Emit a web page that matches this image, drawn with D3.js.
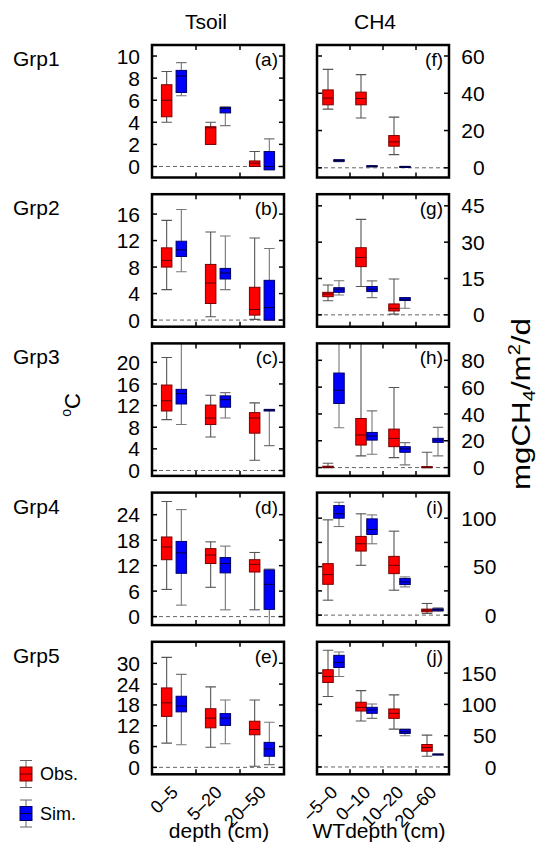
<!DOCTYPE html>
<html><head><meta charset="utf-8">
<script src="https://cdn.jsdelivr.net/npm/d3@7"></script>
<style>
body{margin:0;background:#fff}
svg{display:block}
text{font-family:"Liberation Sans",Arial,Helvetica,sans-serif;fill:#000}
</style>
</head><body>
<svg id="c" width="539" height="844"></svg>
<script>
// ---------- data ----------
const groups = ["Grp1","Grp2","Grp3","Grp4","Grp5"];
const tsoilCats = ["0\u20135","5\u201320","20\u201350"];
const ch4Cats = ["\u20135\u20130","0\u201310","10\u201320","20\u201360"];
const seriesNames = ["Obs.","Sim."];

// each box: [lowWhisker, q1, median, q3, highWhisker]
const tsoilObs = [
  [[4.0,4.5,6.0,7.4,8.6],[2.0,2.0,3.5,3.6,4.0],[0.0,0.0,0.3,0.5,1.35]],
  [[4.6,8.0,9.0,10.9,15.05],[0.5,2.5,5.6,8.4,13.3],[0.1,0.75,1.6,4.95,12.4]],
  [[9.4,11.0,12.9,15.8,20.9],[6.2,8.5,9.7,12.1,13.9],[1.9,6.9,9.7,10.7,12.5]],
  [[6.4,13.4,16.4,18.75,27.1],[6.9,12.5,14.5,16.0,17.6],[1.6,10.5,12.3,13.4,15.1]],
  [[7.0,14.7,18.6,22.9,31.7],[5.8,11.4,14.2,16.9,23.2],[0.3,9.4,10.9,13.3,19.4]]
];
const tsoilSim = [
  [[6.4,6.7,8.2,8.7,9.4],[3.7,4.85,5.25,5.35,5.4],[-0.3,-0.3,0.0,1.35,2.5]],
  [[7.3,9.6,10.6,11.9,16.7],[4.6,6.2,7.1,7.8,12.7],[0.0,0.0,1.9,6.0,10.8]],
  [[8.5,12.3,14.2,15.0,25.0],[9.7,11.7,13.1,13.8,14.4],[4.6,11.0,11.15,11.25,11.3]],
  [[2.7,10.2,15.0,17.7,25.2],[1.6,10.3,12.5,13.9,16.6],[-3.0,1.7,7.6,11.0,11.2]],
  [[6.5,16.0,17.7,20.5,26.8],[6.8,12.1,14.2,15.5,19.4],[0.8,3.2,5.3,7.2,13.0]]
];
const ch4Obs = [
  [[31.5,33.8,37.4,41.8,52.8],[26.7,33.8,37.2,40.6,50.0],[7.1,11.6,13.9,17.3,27.2],null],
  [[5.8,7.5,8.6,9.3,12.3],[11.7,19.9,23.7,27.7,39.4],[0.3,1.6,2.7,4.5,14.8],null],
  [[0.0,0.0,0.5,1.0,3.2],[8.7,16.8,24.3,36.6,120],[7.4,15.6,21.8,28.7,59.7],[0.0,0.0,0.3,0.7,11.4]],
  [[15.4,31.8,41.8,53.1,98.3],[51.4,66.1,73.6,81.2,104.5],[25.7,42.8,51.4,60.6,86.6],[1.7,3.4,5.1,6.2,12.0]],
  [[112.5,135,144.6,155.3,186.4],[73.4,89.4,95.3,103.4,122],[60.5,77.7,85.7,92.7,115.2],[17.1,25.2,31.1,35.9,50.9]]
];
const ch4Sim = [
  [[3.3,3.5,3.9,4.3,4.4],[0.5,0.6,0.9,1.1,1.2],[0.3,0.4,0.5,0.7,0.8],null],
  [[8.2,9.3,10.6,11.2,14.1],[7.1,9.6,10.6,11.7,14.0],[2.7,5.9,6.4,7.1,7.1],null],
  [[29.7,47.8,57.7,70.5,130],[9.9,20.5,23.5,26.2,42.3],[2.0,11.4,13.9,15.6,18.6],[8.7,18.8,20.5,21.8,30.0]],
  [[91.4,100,104.5,113,116.4],[73.6,83.2,88.4,99.3,103.4],[29.1,31.5,34.2,37.7,39.4],[4.1,4.5,5.8,6.5,7.5]],
  [[144.6,159,167,178.4,183.7],[77.7,85.7,91.0,95.3,100.7],[49.8,53.6,56.2,60.0,60.5],[19.8,20.0,20.3,20.6,20.8]]
];

const tsoilDomains = [[-1,11],[-1,19],[-1,23.5],[-2,29.2],[-2,36.2]];
const ch4Domains = [[-5.2,65.9],[-4.9,49.8],[-6.2,92.6],[-10.3,126.4],[-11.7,200]];
const tsoilTicks = [[0,2,4,6,8,10],[0,4,8,12,16],[0,4,8,12,16,20],[0,6,12,18,24],[0,6,12,18,24,30]];
const ch4Ticks = [[0,20,40,60],[0,15,30,45],[0,20,40,60,80],[0,50,100],[0,50,100,150]];
const ch4MinorTicks = [[],[],[],[25,75],[]];

// ---------- drawing ----------
const svg = d3.select("#c");
const defs = svg.append("defs");
const colors = {obs:{fill:"#ff0000",stroke:"#7a0000",med:"#5a0000",wh:"#555"},
                sim:{fill:"#0000ff",stroke:"#00006a",med:"#000033",wh:"#777"}};
const BW = 10.5;
const rowTop = i => 45 + i*149.2;
const rowH = 132.5;

const cols = [
  {x0:152,x1:284,cats:tsoilCats,obs:tsoilObs,sim:tsoilSim,dom:tsoilDomains,ticks:tsoilTicks,minor:[[],[],[],[],[]],side:"left",tags:["(a)","(b)","(c)","(d)","(e)"]},
  {x0:317,x1:449,cats:ch4Cats,obs:ch4Obs,sim:ch4Sim,dom:ch4Domains,ticks:ch4Ticks,minor:ch4MinorTicks,side:"right",tags:["(f)","(g)","(h)","(i)","(j)"]}
];

function drawBox(g, cx, s, y, col){
  if(!s) return;
  const [lo,q1,md,q3,hi] = s;
  const c = colors[col];
  g.append("line").attr("x1",cx).attr("x2",cx).attr("y1",y(lo)).attr("y2",y(hi))
    .attr("stroke",c.wh).attr("stroke-width",1.1);
  [lo,hi].forEach(v=>g.append("line").attr("x1",cx-BW/2).attr("x2",cx+BW/2)
    .attr("y1",y(v)).attr("y2",y(v)).attr("stroke",c.wh).attr("stroke-width",1.1));
  g.append("rect").attr("x",cx-BW/2).attr("width",BW)
    .attr("y",y(q3)).attr("height",Math.max(1,y(q1)-y(q3)))
    .attr("fill",c.fill).attr("stroke",c.stroke).attr("stroke-width",1);
  g.append("line").attr("x1",cx-BW/2).attr("x2",cx+BW/2).attr("y1",y(md)).attr("y2",y(md))
    .attr("stroke",c.med).attr("stroke-width",1);
}

groups.forEach((grp,r)=>{
  const y0 = rowTop(r), y1 = y0 + rowH;
  svg.append("text").attr("x",13).attr("y",y0+21).attr("font-size",21).text(grp);
  cols.forEach((c,ci)=>{
    const x = d3.scaleBand().domain(c.cats).range([c.x0,c.x1]).padding(0);
    const sub = d3.scalePoint().domain(["obs","sim"]).range([0,x.bandwidth()]).padding(1);
    const y = d3.scaleLinear().domain(c.dom[r]).range([y1,y0]);
    const id = "clip"+r+"_"+ci;
    defs.append("clipPath").attr("id",id).append("rect")
      .attr("x",c.x0).attr("y",y0).attr("width",c.x1-c.x0).attr("height",rowH);
    const g = svg.append("g").attr("clip-path",`url(#${id})`);
    // zero line
    g.append("line").attr("x1",c.x0).attr("x2",c.x1).attr("y1",y(0)).attr("y2",y(0))
      .attr("stroke","#666").attr("stroke-width",1).attr("stroke-dasharray","4,3");
    c.cats.forEach((cat,k)=>{
      drawBox(g, x(cat)+sub("obs"), c.obs[r][k], y, "obs");
      drawBox(g, x(cat)+sub("sim"), c.sim[r][k], y, "sim");
    });
    // frame
    svg.append("rect").attr("x",c.x0).attr("y",y0).attr("width",c.x1-c.x0).attr("height",rowH)
      .attr("fill","none").attr("stroke","#000").attr("stroke-width",2.5);
    // y ticks (inward, both sides)
    const allT = c.ticks[r].concat(c.minor[r]);
    allT.forEach(v=>{
      svg.append("line").attr("x1",c.x0).attr("x2",c.x0+5).attr("y1",y(v)).attr("y2",y(v))
        .attr("stroke","#000").attr("stroke-width",1.5);
      svg.append("line").attr("x1",c.x1-5).attr("x2",c.x1).attr("y1",y(v)).attr("y2",y(v))
        .attr("stroke","#000").attr("stroke-width",1.5);
    });
    // x ticks at category boundaries, top and bottom
    c.cats.slice(1).forEach(cat=>{
      const xv = x(cat);
      svg.append("line").attr("x1",xv).attr("x2",xv).attr("y1",y0).attr("y2",y0+5)
        .attr("stroke","#000").attr("stroke-width",1.5);
      svg.append("line").attr("x1",xv).attr("x2",xv).attr("y1",y1-5).attr("y2",y1)
        .attr("stroke","#000").attr("stroke-width",1.5);
    });
    // tick labels
    const maxChars = d3.max(c.ticks[r], v=>String(v).length);
    c.ticks[r].forEach(v=>{
      const t = svg.append("text").attr("y",y(v)).attr("dy","0.36em").attr("font-size",21)
        .attr("text-anchor","end").text(v);
      if(c.side==="left") t.attr("x",c.x0-12);
      else t.attr("x",c.x1+12+maxChars*11.8);
    });
    // panel tag
    svg.append("text").attr("x",c.x1-6).attr("y",y0+21).attr("text-anchor","end")
      .attr("font-size",19).text(c.tags[r]);
    // x labels on bottom row
    if(r===groups.length-1){
      c.cats.forEach(cat=>{
        const cx = x(cat)+x.bandwidth()/2 + 5, cy = y1 + 19;
        svg.append("text").attr("transform",`translate(${cx},${cy}) rotate(-45)`)
          .attr("text-anchor","end").attr("font-size",18).text(cat);
      });
    }
  });
});

// column titles
svg.append("text").attr("x",206).attr("y",29).attr("text-anchor","middle").attr("font-size",21).text("Tsoil");
svg.append("text").attr("x",375).attr("y",29).attr("text-anchor","middle").attr("font-size",21).text("CH4");

// x axis titles
svg.append("text").attr("x",219).attr("y",838).attr("text-anchor","middle").attr("font-size",21).text("depth (cm)");
svg.append("text").attr("x",379).attr("y",838).attr("text-anchor","middle").attr("font-size",21).text("WTdepth (cm)");

// y axis titles
const yl = svg.append("text").attr("transform","translate(80,405) rotate(-90)")
  .attr("text-anchor","middle").attr("font-size",22);
yl.append("tspan").attr("font-size",14).attr("dy",-9).text("o");
yl.append("tspan").attr("dy",9).text("C");

const yr = svg.append("text").attr("transform","translate(530,404) rotate(-90)")
  .attr("text-anchor","middle").attr("font-size",25)
  .attr("textLength",172).attr("lengthAdjust","spacingAndGlyphs");
yr.append("tspan").text("mgCH");
yr.append("tspan").attr("font-size",16).attr("dy",5).text("4");
yr.append("tspan").attr("dy",-5).text("/m");
yr.append("tspan").attr("font-size",16).attr("dy",-10).text("2");
yr.append("tspan").attr("dy",10).text("/d");

// legend
const legend = [{key:"obs",label:seriesNames[0],yc:774},{key:"sim",label:seriesNames[1],yc:813.5}];
legend.forEach(L=>{
  const c = colors[L.key], cx = 26;
  const gg = svg.append("g");
  gg.append("line").attr("x1",cx).attr("x2",cx).attr("y1",L.yc-13.5).attr("y2",L.yc+13.5).attr("stroke","#666");
  [-13.5,13.5].forEach(d=>gg.append("line").attr("x1",cx-6).attr("x2",cx+6).attr("y1",L.yc+d).attr("y2",L.yc+d).attr("stroke","#666"));
  gg.append("rect").attr("x",cx-6).attr("width",12).attr("y",L.yc-7).attr("height",14)
    .attr("fill",c.fill).attr("stroke",c.stroke);
  gg.append("line").attr("x1",cx-6).attr("x2",cx+6).attr("y1",L.yc).attr("y2",L.yc).attr("stroke",c.med);
  svg.append("text").attr("x",40).attr("y",L.yc+6).attr("font-size",18).text(L.label);
});
</script>
</body></html>
